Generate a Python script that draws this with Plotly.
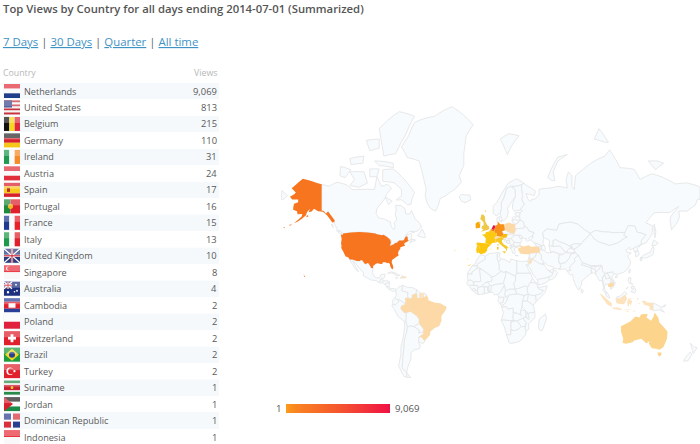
import math
import plotly.graph_objects as go

TITLE = "Top Views by Country for all days ending 2014-07-01 (Summarized)"
LINKS = ["7 Days", "30 Days", "Quarter", "All time"]
countries = ["Netherlands","United States","Belgium","Germany","Ireland","Austria","Spain","Portugal","France","Italy",
             "United Kingdom","Singapore","Australia","Cambodia","Poland","Switzerland","Brazil","Turkey","Suriname","Jordan",
             "Dominican Republic","Indonesia"]
iso3 = ["NLD","USA","BEL","DEU","IRL","AUT","ESP","PRT","FRA","ITA","GBR","SGP","AUS","KHM","POL","CHE","BRA","TUR","SUR","JOR","DOM","IDN"]
views = [9069,813,215,110,31,24,17,16,15,13,10,8,4,2,2,2,2,2,1,1,1,1]
view_labels = ["9,069","813","215","110","31","24","17","16","15","13","10","8","4","2","2","2","2","2","1","1","1","1"]

# Coarse geographic outlines (lon, lat); the basemap file cannot be fetched offline.
outlines = {
"USA":[[(-124.7,48.4),(-123,48.3),(-122.8,49),(-95.2,49),(-94.6,48.7),(-92,48.3),(-89.6,48),(-88.4,48.3),(-84.9,46.9),(-84.5,46.5),(-83.5,46),(-82.5,45.3),(-82.1,43.6),(-82.5,42.6),(-83.1,42.1),(-82.7,41.7),(-79,42.8),(-79,43.3),(-76.8,43.6),(-76.3,44.2),(-74.9,45),(-71.5,45),(-70.8,45.4),(-70,46.7),(-69.2,47.4),(-68.3,47.3),(-67.8,47),(-67.8,45.7),(-67,44.8),(-69,44),(-70.2,43.6),(-70.8,42.8),(-70,41.7),(-71.5,41.4),(-74,40.7),(-74.1,39.7),(-75.4,38.5),(-76,36.9),(-75.5,35.2),(-77,34.5),(-79,33.4),(-81,32),(-81.4,30.5),(-80.5,28.4),(-80,26.8),(-80.3,25.3),(-81.1,25.1),(-81.8,26.2),(-82.8,27.8),(-82.8,29),(-84,30),(-85.4,29.7),(-86.5,30.4),(-89,30.4),(-89.4,29.1),(-90.5,29.2),(-93.5,29.7),(-94.8,29.3),(-97.2,27.7),(-97.2,25.96),(-99.1,26.4),(-99.5,27.5),(-101.4,29.8),(-102.7,29.7),(-103.1,29),(-104.5,29.6),(-106.5,31.8),(-108.2,31.8),(-108.2,31.3),(-111,31.3),(-114.8,32.5),(-117.1,32.5),(-118.5,34),(-120.6,34.6),(-121.9,36.6),(-122.5,37.8),(-123.8,39.5),(-124.3,40.4),(-124.1,42),(-124.5,42.8),(-124,46.2)],
 [(-141,69.6),(-141,60.3),(-139,60),(-137.5,58.9),(-135.5,59.8),(-133.5,58.4),(-130,55.9),(-130.2,55),(-132,54.8),(-134,56.5),(-136.5,58.2),(-140,59.7),(-144,60),(-147.5,61),(-149.5,59.8),(-152,59.5),(-151,61),(-153.5,59.5),(-154.3,58.2),(-158,56.5),(-162,55),(-164.5,54.5),(-161,56.1),(-158,57.6),(-157.5,58.8),(-161.5,58.7),(-162,60),(-165.3,60.6),(-165,62),(-164.5,63),(-161,63.6),(-161,64.6),(-166,64.6),(-168,65.6),(-164,66.5),(-163,67),(-166.5,68.4),(-163,69.5),(-157,71.2),(-152,70.8),(-145,70)],
 [(-155.9,19.1),(-155,19.7),(-155.8,20.3),(-156.1,19.7)],[(-156.7,20.9),(-156,20.7),(-156.4,20.5)],[(-159.8,22),(-159.3,22.2),(-159.4,21.9)],
 [(-154,57.3),(-152.4,57.5),(-152.6,58.3),(-153.8,57.9)],[(-168.5,53.2),(-166.5,53.6),(-167,54),(-168.5,53.6)],[(-174,52.1),(-172,52.2),(-172.5,52.5)]],
"CAN":[[(-141,69.6),(-135,69),(-128,70.2),(-120,69.5),(-115,68),(-108,68),(-96,68),(-94,71.8),(-90,69),(-85,69.6),(-81.5,68.5),(-86,66.3),(-87,65),(-94,61),(-94.7,59),(-92.5,57),(-88,56.5),(-82.5,55.1),(-82,53),(-80,51.3),(-79,51.5),(-78.5,52.8),(-79.5,54.7),(-77,56),(-78.5,58.7),(-77.5,60.5),(-78,62.4),(-73.5,62.3),(-70,61),(-69.5,58.8),(-66,58.8),(-64.5,60.3),(-61.5,56.5),(-58,54.8),(-55.8,52.5),(-60,50.2),(-66.5,50.2),(-70,47.5),(-65,49.2),(-64.5,47.5),(-65,46),(-61,45.2),(-66,43.6),(-64,45.8),(-67,44.8),(-67.8,45.7),(-67.8,47),(-68.3,47.3),(-69.2,47.4),(-70,46.7),(-70.8,45.4),(-71.5,45),(-74.9,45),(-76.3,44.2),(-79,43.3),(-79,42.8),(-82.7,41.7),(-83.1,42.1),(-82.5,42.6),(-82.1,43.6),(-81.5,45),(-83.5,46),(-84.5,46.5),(-84.9,46.9),(-88.4,48.3),(-89.6,48),(-92,48.3),(-94.6,48.7),(-95.2,49),(-122.8,49),(-125,50.2),(-127.5,51),(-130,54),(-130.2,55),(-130,55.9),(-133.5,58.4),(-135.5,59.8),(-137.5,58.9),(-139,60),(-141,60.3)],
 [(-80,73.7),(-72,71.5),(-68,70),(-62,67),(-64,65),(-65,62.8),(-68,62.6),(-73,64.5),(-77.5,64.4),(-73,66),(-73,68),(-79,70),(-89,70.5),(-89,73.5)],
 [(-117,73),(-105,73),(-102,70),(-109,68.7),(-117,69.2),(-113,71)],[(-125,74.3),(-116,73.5),(-121,71.5),(-125.5,72)],
 [(-92,81),(-75,83),(-62,82.5),(-70,80),(-78,77),(-88,76.5),(-90,79)],[(-96,75.5),(-80,75),(-80,74),(-92,74.5)],[(-117,76),(-105,76.5),(-106,75),(-116,74.7)],
 [(-103,79.3),(-92,79.5),(-92,78),(-100,77.5)],[(-100,73.7),(-92,73.7),(-94,71.8),(-100,71.7)],[(-87,65.5),(-81,64),(-84,62.7)],
 [(-59.3,47.7),(-55.5,46.9),(-53,46.7),(-52.8,48),(-55.5,51.5),(-57,50)],[(-128.5,50.7),(-125,50.2),(-123.4,48.5),(-125.5,48.9)],[(-132.8,54),(-131.8,54),(-131.2,52.2)],[(-64.5,49.9),(-62,49.4),(-63,49.8)]],
"GRL":[[(-73,78.2),(-68,76.2),(-58,75.5),(-54,71),(-52,68),(-53,66),(-51,63),(-48,61),(-44,60),(-42,62),(-40,65),(-35,66),(-27,68.3),(-22,70.3),(-24,72),(-20,74.5),(-20,77),(-18,80),(-12,81.5),(-30,83.5),(-45,82.5),(-62,81.8),(-67,80)]],
"ISL":[[(-24,65.5),(-22,64),(-19,63.4),(-14,64.5),(-15,66.2),(-18,66.2),(-22,66.4)]],
"SJM":[[(11,79.5),(17,76.8),(21,78.5),(27,80),(18,80.3)]],
"MEX":[[(-117.1,32.5),(-114.8,32.5),(-111,31.3),(-108.2,31.3),(-108.2,31.8),(-106.5,31.8),(-104.5,29.6),(-103.1,29),(-102.7,29.7),(-101.4,29.8),(-99.5,27.5),(-99.1,26.4),(-97.2,25.96),(-97.8,22.5),(-96,19),(-94.5,18.2),(-91.5,18.6),(-90.4,21),(-87,21.5),(-87.8,18.3),(-89.1,17.9),(-91,17.2),(-91,16),(-92.2,14.6),(-94.5,16.2),(-99,16.6),(-105.5,20),(-105.5,22.5),(-109,26),(-112.5,30),(-114.7,31.5),(-112,27),(-109.5,23.2),(-112,25),(-115,29)]],
"GTM":[[(-92.2,14.6),(-91,16),(-91,17.2),(-89.1,17.9),(-88.7,15.9),(-89.3,14.5),(-90.5,13.9)]],
"HND":[[(-89.3,14.5),(-88.7,15.9),(-85,16),(-83.2,15),(-85,14),(-87.3,13)]],
"NIC":[[(-87.3,13),(-85,14),(-83.2,15),(-83.7,11),(-85.7,11.1)]],
"CRI":[[(-85.7,11.1),(-83.7,11),(-82.6,9.6),(-83,8.3),(-85,9.7)]],
"PAN":[[(-83,8.3),(-82.6,9.6),(-79.5,9.5),(-77.4,8.7),(-77.9,7.3),(-80.4,7.3)]],
"CUB":[[(-84.9,21.9),(-82,23.1),(-78,22.2),(-74.2,20.2),(-77.7,19.9),(-78,21),(-82,22.4)]],
"HTI":[[(-74.4,18.4),(-72,18.1),(-71.7,19.8),(-73.2,19.9),(-72.6,18.8)]],
"DOM":[[(-72,18.1),(-71,17.7),(-68.4,18.6),(-69.9,19.7),(-71.7,19.8)]],
"JAM":[[(-78.3,18.3),(-76.3,18),(-76.6,18.4)]],
"COL":[[(-77.4,8.7),(-75.5,10.7),(-72,12.2),(-72.4,10.5),(-72.5,7.5),(-70,7),(-67.5,6.2),(-67.8,3.5),(-67.2,1.5),(-70,1.5),(-69.5,-0.5),(-69.9,-4.2),(-70.9,-2.5),(-74.5,-0.2),(-77.5,0.4),(-78.9,1.4),(-77.4,4),(-77.9,7.3)]],
"VEN":[[(-72,12.2),(-70,11.5),(-68,10.6),(-64,10.4),(-60,8.5),(-60.7,5.2),(-64,4.1),(-64,1.5),(-66.5,1),(-67.2,1.5),(-67.8,3.5),(-67.5,6.2),(-70,7),(-72.5,7.5),(-72.4,10.5)]],
"GUY":[[(-60,8.5),(-57.2,6),(-58,3.5),(-57,1.7),(-59.8,1.3),(-60,5.2),(-60.7,5.2)]],
"SUR":[[(-57.2,6),(-54,5.9),(-54.4,2.3),(-57,1.9),(-58,3.5)]],
"GUF":[[(-54,5.9),(-51.6,4.2),(-52.8,2.2),(-54.4,2.3)]],
"ECU":[[(-78.9,1.4),(-77.5,0.4),(-75.2,-0.1),(-75.5,-1.5),(-78.5,-4.8),(-80.3,-3.4),(-81,-2),(-80,0.5)]],
"PER":[[(-80.3,-3.4),(-78.5,-4.8),(-75.5,-1.5),(-75.2,-0.1),(-74.5,-0.2),(-70.9,-2.5),(-69.9,-4.2),(-73,-5),(-73.8,-7.5),(-70.6,-11),(-69,-11),(-69,-16),(-69.5,-17.5),(-70.4,-18.3),(-76,-14),(-79.5,-7.5),(-81.3,-5)]],
"BOL":[[(-69.5,-10.9),(-65.4,-9.8),(-60,-13.7),(-58,-16.4),(-58,-19.8),(-62.6,-22.2),(-66.3,-21.8),(-68,-22.8),(-69.5,-17.5),(-69,-16),(-69,-11)]],
"PRY":[[(-58,-19.8),(-55.5,-22.5),(-54.3,-24.2),(-54.6,-26.5),(-58.5,-27.2),(-57.7,-25.2),(-62.6,-22.2)]],
"CHL":[[(-70.4,-18.3),(-69.5,-17.5),(-68,-22.8),(-68.5,-26),(-70.5,-32),(-71,-38),(-71.8,-44),(-72.5,-50),(-69,-52.2),(-66,-55),(-71,-54.5),(-75.5,-49),(-73.5,-42),(-73.5,-37),(-71.5,-30),(-70.4,-23)]],
"ARG":[[(-66.3,-21.8),(-62.6,-22.2),(-57.7,-25.2),(-58.5,-27.2),(-54.6,-26.5),(-54,-27.5),(-58.2,-30.2),(-58.4,-34),(-57,-36.5),(-58,-38.5),(-62,-39),(-65,-41),(-65,-45),(-68,-50),(-68.5,-52.4),(-69,-52.2),(-72.5,-50),(-71.8,-44),(-71,-38),(-70.5,-32),(-68.5,-26),(-68,-22.8)],[(-68.6,-52.7),(-65.2,-54.9),(-68.6,-54.9)]],
"URY":[[(-58.2,-30.2),(-56,-30.2),(-53.3,-33),(-54.5,-34.8),(-58.4,-34)]],
"BRA":[[(-60,5.2),(-59.8,1.3),(-57,1.7),(-54.4,2.3),(-52.8,2.2),(-51.6,4.2),(-50,1),(-50.5,0),(-48.5,-1),(-44.5,-2.5),(-40,-2.9),(-37,-4.8),(-35,-5.5),(-34.8,-7.5),(-37,-11),(-39,-13.5),(-39,-17.5),(-41,-22),(-44.5,-23.2),(-48.5,-26),(-48.7,-28.5),(-53.3,-33),(-56,-30.2),(-58.2,-30.2),(-54,-27.5),(-54.6,-26.5),(-54.3,-24.2),(-55.5,-22.5),(-58,-19.8),(-58,-16.4),(-60,-13.7),(-65.4,-9.8),(-69.5,-10.9),(-70.6,-11),(-73.8,-7.5),(-73,-5),(-69.9,-4.2),(-69.5,-0.5),(-70,1.5),(-67.2,1.5),(-66.5,1),(-64,1.5),(-64,4.1),(-60.7,5.2)]],
"IRL":[[(-10,54.2),(-9.8,51.7),(-6.3,52.2),(-6,53.7),(-7.3,55.2),(-8.5,55)]],
"GBR":[[(-5.5,50),(1.3,51.2),(1.7,52.7),(0,53.5),(-1.5,55),(-2,56),(-2,57.5),(-3.5,58.6),(-5,58.6),(-6,56.5),(-3.2,54.9),(-3,53.4),(-4.5,53),(-5,51.7),(-3.3,51.3)],[(-8,54.6),(-6,54.2),(-5.7,55),(-7,55.2)],[(-2.5,59.5),(-1.2,60.6),(-1,60)]],
"NOR":[[(5,59),(7.5,58),(10.7,59),(12,61),(12,63.5),(14,65),(16.5,68.4),(20,69),(25,69),(29,69.5),(31,70),(25,71.2),(18,70),(12,66.5),(8,63.5),(5,62)]],
"SWE":[[(11,59),(12.8,55.6),(14.5,56),(16.5,57),(18,59.6),(17,61),(21,64),(24,65.8),(23.7,68),(20,69),(16.5,68.4),(14,65),(12,63.5),(12,61)]],
"FIN":[[(23,60),(28,60.5),(31.5,62.8),(29.5,64.5),(30,66),(29,69),(29,69.5),(25,69),(20.8,69),(23.7,68),(24,65.8),(21.5,63),(21.5,61)]],
"DNK":[[(8.2,55),(9.5,54.9),(10.5,56),(10.8,57.7),(8.2,57)],[(11,55.7),(12.5,55.9),(12,54.8)]],
"NLD":[[(3.4,51.4),(6,50.8),(6.2,51.8),(7.2,53.2),(5,53.4),(4,52)]],
"BEL":[[(2.5,51.1),(4,50.3),(6,50),(6,50.8),(5.8,51.2),(3.4,51.4)]],
"DEU":[[(6,50.8),(6,50),(6.2,49.5),(8.2,49),(7.6,47.6),(10,47.4),(13,47.6),(13.8,48.7),(12.3,50.2),(15,51),(14.7,53),(14.2,53.9),(11,54),(9.5,54.9),(8.6,54.9),(8.8,53.9),(7.2,53.2),(6.2,51.8)]],
"FRA":[[(-4.7,48.4),(-1.5,48.7),(-1.5,49.7),(1.5,50.2),(2.5,51.1),(4,50.3),(6,50),(6.2,49.5),(8.2,49),(7.6,47.6),(6,46.4),(7,45.9),(7,44.3),(7.5,43.8),(4,43.4),(3.1,42.4),(-1.8,43.3),(-1.2,46),(-2.5,47.3)],[(8.6,42.9),(9.5,42.9),(9.3,41.4),(8.8,41.6)]],
"ESP":[[(-9.3,43),(-8.8,43.8),(-1.8,43.3),(3.1,42.4),(0.7,40.8),(-0.3,39.5),(0,38.6),(-2,36.9),(-5.4,36.1),(-7.4,37.2),(-7,39.6),(-6.5,41.6),(-8.8,41.9)],[(2.3,39.5),(3.4,39.9),(3,39.3)],[(-17.2,28),(-15.5,28.3),(-13.6,29.2),(-15.5,27.8)]],
"PRT":[[(-8.8,41.9),(-6.5,41.6),(-7,39.6),(-7.4,37.2),(-8.9,37),(-9.5,38.8)],[(-28.7,38.4),(-27,38.9),(-27.5,38.3)],[(-17.3,32.7),(-16.3,33),(-16.7,32.5)]],
"ITA":[[(7,44.3),(7,45.9),(8.5,46.3),(10.5,46.8),(12.2,47),(13.7,46.5),(13.5,45.7),(12.3,45),(12.6,44),(14,42.5),(16.2,41.8),(18.5,40.2),(17,40.4),(16.6,38.9),(15.7,38),(16,39.5),(15,40.2),(12.4,41.7),(10.5,43),(8.8,44.4),(7.5,43.8)],[(12.5,38),(15.6,38.2),(15.1,36.7)],[(8.2,41),(9.7,41),(9.5,39.1),(8.4,39.1)]],
"CHE":[[(6,46.4),(7.6,47.6),(9.6,47.5),(10.5,46.8),(8.5,46.3),(7,45.9)]],
"AUT":[[(9.6,47.5),(10,47.4),(13,47.6),(13.8,48.7),(17,48.7),(16.9,47.7),(16,46.8),(13.7,46.5),(12.2,47),(10.5,46.8)]],
"POL":[[(14.2,53.9),(14.7,53),(15,51),(19,49.5),(22.8,49.1),(24,50.8),(23.6,52),(23.5,54),(19.8,54.4),(18.5,54.8)]],
"CZE":[[(12.3,50.2),(13.8,48.7),(17,48.7),(22.5,48.6),(22.8,49.1),(19,49.5),(15,51)]],
"HUN":[[(16,46.8),(16.9,47.7),(17,48.7),(22.5,48.6),(22.8,48),(20.3,46.2),(18,45.8)]],
"SVN":[[(13.7,46.5),(16,46.8),(15.5,45.5),(13.5,45.5)]],
"HRV":[[(13.5,45.5),(15.5,45.5),(16,46.8),(18,45.8),(19,45),(16,44.9),(17.6,43),(15,44.5)]],
"BIH":[[(16,44.9),(19,45),(19,43.5),(17.6,43)]],
"SRB":[[(18,45.8),(20.3,46.2),(22.5,44.3),(22.4,42.4),(20.5,42),(19,43.5),(19,45)]],
"ALB":[[(19.3,42.2),(20.5,42),(20.9,40.9),(20,39.7),(19.4,41)]],
"MKD":[[(20.5,42),(22.4,42.4),(23,41.3),(20.9,40.9)]],
"GRC":[[(20,39.7),(20.9,40.9),(23,41.3),(26.3,41.6),(26,40.8),(23,40.3),(23,39),(24,38),(23,36.5),(21.7,36.8),(21,38.4)],[(23.6,35.5),(26.2,35.2),(24.8,34.9)]],
"BGR":[[(22.4,42.4),(22.5,44.3),(25,43.7),(28.5,43.7),(27.7,42.6),(28,42),(26.3,41.6),(23,41.3)]],
"ROU":[[(20.3,46.2),(22.8,48),(26.5,48.2),(28.2,46),(29.6,45.2),(28.5,43.7),(25,43.7),(22.5,44.3)]],
"MDA":[[(26.5,48.2),(29,47.9),(30,46.4),(28.2,46)]],
"UKR":[[(22.8,48),(22.5,48.6),(22.8,49.1),(24,50.8),(24,51.6),(31,52),(31.5,53),(34,52.3),(35.5,50.4),(40,49.6),(38,47.5),(35,46.3),(36.5,45.3),(34,44.4),(32.5,45.3),(33.5,46),(30,46.4),(29,47.9),(26.5,48.2)]],
"BLR":[[(24,51.6),(31,52),(31.5,53),(31,55),(28,56),(25.5,54.3),(23.5,54),(23.6,52)]],
"LTU":[[(21,56),(21,55.2),(23.5,54),(25.5,54.3),(26.6,55.7),(24,56.3)]],
"LVA":[[(21,56),(24,56.3),(26.6,55.7),(28,56),(27.5,57.5),(25,58),(24.3,57.2),(22.5,57.7),(21.4,57)]],
"EST":[[(23.5,59.2),(28,59.5),(27.5,57.5),(25,58),(24,58.3)]],
"RUS":[[(28,60.5),(31.5,62.8),(29.5,64.5),(30,66),(29,69),(31,70),(33,69.4),(41,67.5),(40,66),(35,66.5),(33,66.7),(34.8,64.5),(37,63.9),(38,64.8),(40,64.6),(44,66.2),(44,68),(46,68.2),(54,68.5),(60,69),(68,68.5),(67,71),(69,73),(72,72),(72,69),(74,68),(75,72),(81,73.5),(88,75),(100,76.5),(104,77.7),(113,74),(125,73.6),(130,71),(140,72.5),(150,71.5),(160,69.7),(170,70),(180,69),(190,66),(186,64.5),(179,64.7),(177,62.5),(170,60),(163,60),(163.5,57.5),(162,55),(156.7,51),(155.5,56),(156,57.5),(163,62),(155,59.3),(142,59.3),(135,54.7),(141,53),(140,48.5),(135,43.5),(131,42.5),(131,45),(135,48.4),(127.5,49.8),(125.5,53),(120,53.3),(117,49.6),(108,49.5),(98,50),(92,50.7),(87.5,49.1),(83,51),(77,54),(71,55),(61,54),(59,50.7),(51,51.5),(47,49.5),(48,46.5),(47.5,45.5),(47.5,43),(48.5,41.8),(46.5,41.8),(40,43.5),(37,45),(39,47.2),(38,47.5),(40,49.6),(35.5,50.4),(34,52.3),(31.5,53),(31,55),(28,56),(27.5,57.5),(28,59.5),(30,60)],
 [(51.5,71.5),(55,70.7),(57.5,70.7),(56,73),(60,75.5),(68,76.8),(60,76.3),(54,73.5)],[(142,54),(143.5,50),(142.5,46.5),(142,49)],[(91,79.5),(100,79),(103,79),(95,81)],[(137,75.5),(145,75.5),(150,75),(143,73.5)]],
"TUR":[[(26.3,41.6),(28,42),(31,41.2),(35,42),(38,41),(41.5,41.5),(43.5,41),(44.7,39.7),(44.5,37.2),(42,37.2),(36.7,36.8),(36,36),(34,36.2),(30.5,36.3),(28,36.7),(26.3,39),(26.2,40.2),(29,41)]],
"GEO":[[(40,43.5),(46.5,41.8),(43.5,41),(41.5,41.5)]],
"ARM":[[(43.5,41),(46,41),(46.5,39),(44.7,39.7)]],
"AZE":[[(46.5,41.8),(48.5,41.8),(49.5,40.3),(48.9,38.5),(46.5,39),(46,41)]],
"SYR":[[(36,36),(36.7,36.8),(42,37.2),(41,34.4),(38.8,33.4),(36,33),(35.8,34.7)]],
"LBN":[[(35.1,33.1),(36,33.7),(36,34.6),(35.5,34.6)]],
"ISR":[[(34.3,31.3),(35,29.6),(35.5,31.8),(35.7,33),(35.1,33.1)]],
"JOR":[[(35,29.6),(36.1,29.2),(38,30.5),(37,31.5),(39,32.3),(38.8,33.4),(36,32.7),(35.5,31.8)]],
"IRQ":[[(42,37.2),(44.5,37.2),(46,35.6),(46,33),(48.5,30),(47.7,30),(46.5,29.1),(44.7,29.2),(39,32.3),(38.8,33.4),(41,34.4)]],
"IRN":[[(44.7,39.7),(46.5,39),(48.9,38.5),(50,37.4),(54,37),(54,37.4),(56,38),(60.5,36.6),(61.2,35.5),(60.7,31),(62.7,28),(61.6,25.1),(57,25.8),(56,27),(51.5,27.9),(48.8,30.3),(48.5,30),(46,33),(46,35.6),(44.5,37.2)]],
"SAU":[[(34.6,28.1),(36.1,29.2),(38,30.5),(37,31.5),(39,32.3),(44.7,29.2),(46.5,29.1),(48.4,28.5),(50,26.7),(51.5,24.5),(55.6,22),(55,20),(52,19),(48.5,18),(44,17.4),(42.7,16.5),(39,21),(37,25)]],
"YEM":[[(42.7,16.5),(44,17.4),(48.5,18),(52,19),(53,16.6),(49,14),(45,12.8),(43.3,12.7)]],
"OMN":[[(52,19),(55,20),(55.6,22),(56.3,24.8),(58.6,23.6),(59.8,22.5),(57.8,19),(55,17),(53,16.6)]],
"ARE":[[(51.5,24.5),(54,24.2),(56.3,25.9),(56.3,24.8),(55.6,22)]],
"KWT":[[(46.5,29.1),(47.7,30),(48.4,28.5)]],
"EGY":[[(25,31.6),(29,31),(32,31.2),(34.3,31.3),(35,29.6),(34,27.5),(33,29),(33.7,27),(36.9,22),(31.4,22),(25,22),(25,29)]],
"LBY":[[(9.5,30.2),(11.5,33.1),(15,32.3),(19,30.3),(20,32.8),(25,31.6),(25,22),(24,19.5),(15.9,23.4),(14,22.6),(11.9,23.5),(10,24.8),(10,28)]],
"TUN":[[(8.3,33),(9.5,30.2),(11.5,33.1),(10.1,34.3),(11,37),(9,37.2),(8.4,36.2)]],
"DZA":[[(-8.7,27.7),(-8.7,29),(-2,32.5),(-1.8,34.9),(2,36.6),(9,37.2),(8.4,36.2),(8.3,33),(9.5,30.2),(10,28),(10,24.8),(11.9,23.5),(6,19.5),(3.3,19),(3.2,19.8),(-4.8,25)]],
"MAR":[[(-13,27.7),(-8.7,27.7),(-8.7,29),(-2,32.5),(-1.8,34.9),(-5.9,35.8),(-9.5,31.5),(-10,29.5)]],
"ESH":[[(-17,21.4),(-13,21.4),(-13,23),(-8.7,26),(-8.7,27.7),(-13,27.7),(-16,23.5)]],
"MRT":[[(-16.5,16),(-17,21.4),(-13,21.4),(-13,23),(-8.7,26),(-4.8,25),(-6.5,25),(-5.5,15.5),(-12,15),(-14,16.6)]],
"MLI":[[(-12,15),(-5.5,15.5),(-6.5,25),(-4.8,25),(3.2,19.8),(3.3,19),(4.2,16.8),(3.5,15.4),(0,14.9),(-2,14.2),(-5.3,11),(-8,10.5),(-8.3,12),(-11.4,12.2)]],
"NER":[[(3.3,19),(6,19.5),(11.9,23.5),(14,22.6),(15.9,23.4),(15.5,20),(13.6,13.7),(11,13.4),(6.7,13),(3.6,11.7),(2.4,12),(0,14.9),(3.5,15.4),(4.2,16.8)]],
"TCD":[[(15.9,23.4),(24,19.5),(24,15.7),(22.6,14),(23.5,9),(18.9,9),(15.5,7.5),(14.5,12.5),(13.6,13.7),(15.5,20)]],
"SDN":[[(24,19.5),(25,22),(31.4,22),(36.9,22),(38.5,18),(36.5,14.3),(34.3,10.5),(32.5,11.7),(27,9.7),(23.5,9),(22.6,14),(24,15.7)]],
"SSD":[[(23.5,9),(27,9.7),(32.5,11.7),(34.3,10.5),(33.9,8),(35,4.6),(31,3.7),(28,4.5),(25,5)]],
"ERI":[[(36.5,14.3),(38.5,18),(43,12.7),(40,14.5)]],
"ETH":[[(34.3,10.5),(36.5,14.3),(40,14.5),(43,12.5),(42.8,11),(44,9),(48,8),(45,5),(41.9,3.9),(39,3.5),(35,4.6),(33.9,8)]],
"SOM":[[(42.8,11),(45,10.5),(51,11.9),(49,6),(41.5,-1.7),(41,3.9),(45,5),(48,8),(44,9)]],
"KEN":[[(34,4.2),(35,4.6),(39,3.5),(41,3.9),(41.5,-1.7),(39.2,-4.7),(34,-1)]],
"UGA":[[(31,3.7),(35,4.6),(34,-1),(29.7,-1.4),(31,2)]],
"TZA":[[(29.7,-1.4),(34,-1),(39.2,-4.7),(40.4,-10.4),(35,-11.5),(32.7,-9.4),(29.5,-6)]],
"COD":[[(12.2,-6),(13,-4.6),(16,-2),(18,3.5),(18.6,4.3),(22,4.6),(25,5),(28,4.5),(31,3.7),(31,2),(29.7,-1.4),(29.5,-6),(28.7,-8.5),(28,-12.3),(29.6,-13.4),(25.5,-11.5),(22,-11),(21.8,-7),(17.5,-8),(16.2,-5.9)]],
"COG":[[(11.2,-4.5),(13,-4.6),(16,-2),(18,3.5),(14.5,3.5),(14,1.5),(13.2,-2.3),(11.5,-2.3)]],
"GAB":[[(9.6,0.8),(9.8,2.2),(13.3,2.2),(14,1.5),(13.2,-2.3),(11.5,-2.3),(11.2,-4),(8.9,-1)]],
"CAF":[[(14.5,5),(15.5,7.5),(18.9,9),(23.5,9),(25,5),(22,4.6),(18.6,4.3),(16,2.3)]],
"CMR":[[(8.7,4.5),(9.8,2.2),(16,2.3),(14.5,5),(15.5,7.5),(14.5,12.5),(13.2,10),(11,6.5)]],
"NGA":[[(2.7,6.4),(2.4,12),(3.6,11.7),(6.7,13),(11,13.4),(13.6,13.7),(14.5,12.5),(13.2,10),(11,6.5),(8.7,4.5),(6,4.3),(4.5,6.3)]],
"BEN":[[(1.6,6.2),(2.7,6.4),(3.6,11.7),(2.4,12),(0.9,11)]],
"TGO":[[(1.6,6.2),(0.9,11),(0,11),(0.5,7.5),(1.2,6.1)]],
"GHA":[[(-3,5),(1.2,6.1),(0.5,7.5),(0,11),(-2.8,11),(-2.5,8)]],
"BFA":[[(-5.3,11),(-2.8,11),(0,11),(2.4,12),(0,14.9),(-2,14.2)]],
"CIV":[[(-7.6,4.4),(-3,5),(-2.5,8),(-2.8,11),(-5.3,11),(-8,10.5),(-8.5,7.5)]],
"LBR":[[(-11.4,6.9),(-7.6,4.4),(-8.5,7.5),(-10,8.4)]],
"SLE":[[(-13.3,8.5),(-11.4,6.9),(-10,8.4),(-11.2,10)]],
"GIN":[[(-15,10.9),(-13.3,8.5),(-11.2,10),(-10,8.4),(-8.5,7.5),(-8,10.5),(-8.3,12),(-11.4,12.2),(-13.7,12.5)]],
"SEN":[[(-17.5,14.7),(-16.5,16),(-14,16.6),(-12,15),(-11.4,12.2),(-16.8,12.4)]],
"AGO":[[(12,-6),(16.2,-5.9),(17.5,-8),(21.8,-7),(22,-11),(24,-11),(22,-13),(22,-16.5),(23.3,-17.7),(13.5,-17),(11.8,-17.3),(13.7,-11)]],
"ZMB":[[(22,-11),(25.5,-11.5),(29.6,-13.4),(28,-12.3),(28.7,-8.5),(32.7,-9.4),(33,-13.5),(30.3,-15.5),(28,-16.5),(25.3,-17.8),(23.3,-17.7),(22,-16.5),(22,-13)]],
"MWI":[[(33,-9.5),(34.5,-11.5),(35.8,-16),(35,-16.8),(33,-13.5)]],
"MOZ":[[(34.5,-11.5),(40.4,-10.4),(40.6,-15),(35,-20),(35.5,-24),(32.9,-26),(32,-24.5),(33,-19),(30.3,-15.5),(33,-14.5),(35,-16.8),(35.8,-16)]],
"ZWE":[[(25.3,-17.8),(28,-16.5),(30.3,-15.5),(33,-19),(32,-22.3),(29,-22.2)]],
"BWA":[[(20,-18.3),(23.3,-17.7),(25.3,-17.8),(29,-22.2),(26,-24.7),(23,-25.3),(20,-25)]],
"NAM":[[(11.8,-17.3),(13.5,-17),(23.3,-17.7),(20,-18.3),(20,-28.4),(16.5,-28.6),(14.5,-22.5)]],
"ZAF":[[(16.5,-28.6),(20,-28.4),(20,-25),(23,-25.3),(26,-24.7),(29,-22.2),(32,-22.3),(32.9,-26),(32.5,-28.6),(28,-33),(25,-34),(20,-34.8),(18.4,-34.2)]],
"MDG":[[(44.2,-16.2),(49.3,-12),(50.5,-15.5),(47,-25),(45,-25.5),(43.5,-22.5)]],
"KAZ":[[(47,49.5),(51,51.5),(59,50.7),(61,54),(71,55),(77,54),(83,51),(87.5,49.1),(85.5,47),(82.5,45.3),(80,42.8),(74,43),(70,41.5),(66,43),(61,44.3),(58.5,45.5),(56,45),(56,41.3),(52.5,41.7),(53,45),(49.5,46.3),(48,46.5)]],
"UZB":[[(56,45),(58.5,45.5),(61,44.3),(66,43),(70,41.5),(73,40.8),(68,38.5),(66.5,37.3),(62,41.5),(56,41.3)]],
"TKM":[[(52.5,41.7),(56,41.3),(62,41.5),(66.5,37.3),(64.5,36),(60.5,36.6),(56,38),(54,37.4)]],
"KGZ":[[(70,41.5),(74,43),(80,42.8),(76,40.4),(73.5,39.5),(70,40.2),(73,40.8)]],
"TJK":[[(68,38.5),(70,40.2),(73.5,39.5),(75,37.4),(71.5,36.9),(68,37)]],
"AFG":[[(60.7,31),(61.2,35.5),(64.5,36),(66.5,37.3),(68,37),(71.5,36.9),(74.8,37.2),(71,36),(69.5,33),(66.5,30),(62,29.4)]],
"PAK":[[(61.6,25.1),(62.7,28),(60.7,31),(62,29.4),(66.5,30),(69.5,33),(71,36),(74.8,37),(77.5,35.5),(74,33),(74.7,31),(71,28),(70,26),(71,24.2),(68,23.7),(66.5,25.4)]],
"IND":[[(68,23.7),(71,24.2),(70,26),(71,28),(74.7,31),(74,33),(77.5,35.5),(79,33),(81,30.2),(80,28.7),(88,26.4),(88.8,27.8),(92,26.9),(97.3,28.2),(94,24),(92.3,23),(92,25),(88.3,26),(88.7,22),(86.8,21),(80.3,15.5),(80.2,12.8),(77.6,8.1),(75,12.5),(73,18),(72.7,21),(70.5,20.8),(69,22.3)]],
"NPL":[[(80,28.7),(81,30.2),(88.2,27.9),(88,26.4)]],
"BTN":[[(88.8,27.8),(92,28),(92,26.9)]],
"BGD":[[(88.3,26),(92,25),(92.3,23),(92.3,21),(90.5,22.5),(88.7,22)]],
"LKA":[[(79.8,9.5),(81.8,7.5),(81,6),(80,6.2)]],
"CHN":[[(74,39.5),(73.5,39.5),(76,40.4),(80,42.8),(82.5,45.3),(85.5,47),(87.5,49.1),(91,46),(95.5,44),(104,42),(111,43.6),(117,46.5),(119,47),(116,48),(117,49.6),(120,53.3),(125.5,53),(127.5,49.8),(135,48.4),(131,45),(131,42.5),(128,41.5),(124.3,40),(121.5,39),(121,40.8),(118,39),(119,37.3),(122.5,37),(119.3,35),(122,31),(121.5,28.5),(119,25),(116,22.8),(110.5,21),(108,21.6),(106.7,23),(102,22.4),(100,21.5),(98,24),(97.3,28.2),(92,28),(88.2,27.9),(81,30.2),(79,33),(77.5,35.5),(74.8,37.2)],[(108.7,19.2),(110.5,20.2),(110.5,18.6),(109,18.3)]],
"MNG":[[(87.5,49.1),(92,50.7),(98,50),(108,49.5),(117,49.6),(116,48),(119,47),(117,46.5),(111,43.6),(104,42),(95.5,44),(91,46)]],
"PRK":[[(124.3,40),(128,41.5),(131,42.5),(127.5,39.6),(128.3,38.5),(125,37.8)]],
"KOR":[[(126,37.7),(128.3,38.5),(129.4,36),(128,34.8),(126.3,34.5)]],
"JPN":[[(130,33.5),(132,33.7),(135,33.5),(139,35),(141,36),(141.9,39.8),(141,41.3),(139.8,39.5),(138.5,37.3),(136.8,37),(133,35.5),(130.9,34)],[(130,32),(131,31.2),(132,33),(130.5,33.7)],[(140,41.8),(141.7,45.4),(145.5,43.3),(143,42)]],
"TWN":[[(120.2,23),(121,25.2),(122,25),(120.9,22)]],
"MMR":[[(92.3,21),(92.3,23),(94,24),(97.3,28.2),(98,24),(100,21.5),(97.8,18.5),(98.6,15),(99,10.5),(97.8,16.5),(95.5,15.8),(94.3,18)]],
"THA":[[(97.8,18.5),(100,20.5),(101,17.5),(102.5,18),(105,18.3),(105.5,14.3),(102.5,13),(100.5,13.5),(99.5,10.5),(100.3,8),(102,6),(100.2,6.5),(98.3,8),(99,10.5),(98.6,15)]],
"LAO":[[(100,21.5),(102,22.4),(104,19.2),(107.5,15),(105.5,14.3),(105,18.3),(102.5,18),(101,17.5),(100,20.5)]],
"VNM":[[(102,22.4),(106.7,23),(108,21.6),(105.8,19),(109,14),(107,10.4),(105,8.7),(105,10.5),(107.5,12),(107.5,15),(104,19.2)]],
"KHM":[[(102.5,13),(105.5,14.3),(107.5,14.5),(107.5,12),(105,10.5),(103,11)]],
"MYS":[[(100.3,6.6),(102,6),(103.4,4),(104.2,1.4),(101.3,2.9)],[(109.6,2),(111.3,2.7),(113,3.2),(115,5),(117,7),(119,5),(117.6,4.2),(115.5,3.2),(114,1.5),(111,1.2)]],
"SGP":[[(103.6,1.2),(104.2,1.3),(104,1.5)]],
"IDN":[[(95.3,5.6),(98,4),(104,-1.5),(106,-3),(105.8,-5.8),(102,-4),(98.5,1)],[(105.5,-6.8),(108.5,-6.5),(111,-6.5),(114.5,-7.8),(114,-8.7),(108,-7.8)],[(109,1.5),(111,1.2),(114,1.5),(115.5,3.2),(117.6,4.2),(119,1),(116.5,-3.5),(114.5,-3.8),(110,-3)],[(119.5,-5.5),(119,-2.8),(119.8,1),(125,1.5),(120.8,0.3),(123.3,-1),(122,-4.8),(120.5,-3),(120.5,-5.6)],[(131,-1),(134,-0.8),(136,-2.3),(141,-2.6),(141,-9.1),(138,-8.3),(138,-5.5),(133,-4),(132.8,-2.6)],[(127.5,2),(128.7,1.3),(127.7,-0.8)],[(128,-3.3),(130.8,-3.4),(129,-2.8)],[(115,-8.7),(119,-8.2),(123,-8.3),(119,-8.8)],[(119.8,-9.3),(120.8,-10.1),(117.6,-10)],[(123.5,-10.3),(125,-9),(127,-8.4),(124.5,-10.2)]],
"PNG":[[(141,-2.6),(145,-4.5),(147.5,-6),(148,-8),(150.8,-10.5),(146,-8.5),(143,-9.2),(141,-9.1)],[(148.5,-5.8),(152,-4.2),(150.5,-6.2)]],
"PHL":[[(120.3,18.5),(122.2,18.4),(122,15),(124,12.7),(120.7,13.9),(120,16)],[(122,7),(125.5,5.7),(126.5,8),(125.5,9.8),(123.5,8)],[(118,9),(119.5,11),(119.5,10)],[(122.2,11),(125,11.5),(125,10.2),(123,9.2)]],
"AUS":[[(113.7,-22),(116.7,-20.6),(122,-18),(124,-16),(126,-14),(129.5,-14.9),(131,-12.2),(136.5,-12),(135.5,-15),(139.5,-17.5),(141.5,-14),(142.5,-10.8),(145.5,-15),(146.5,-19),(150,-22.5),(153.3,-26),(153,-31),(150,-37.3),(146.5,-39),(144,-38.4),(140,-38),(137.5,-35),(138,-33),(135.5,-34.8),(131,-31.5),(125,-32.7),(123.5,-33.9),(118,-35),(115,-34.3),(115.7,-31.5),(113.7,-26)],[(144.7,-40.8),(148.3,-40.9),(148,-42.5),(146.5,-43.6),(145.3,-42.5)]],
"NZL":[[(172.7,-34.5),(175.5,-37),(178.5,-37.7),(175.3,-41.6),(174.8,-39.5)],[(167,-46.2),(170.8,-46),(172.8,-43.6),(174.2,-41.7),(172.7,-40.6),(168.5,-44)]],
}

W, H = 700, 444
def px(x): return x / W
def py(y): return 1 - y / H

def oriented(ring):
    area = sum(ring[i][0]*ring[(i+1)%len(ring)][1] - ring[(i+1)%len(ring)][0]*ring[i][1] for i in range(len(ring)))
    r = [list(p) for p in ring]
    if area > 0: r.reverse()     # d3-geo wants clockwise exteriors
    r.append(r[0])
    return r

geojson = {"type":"FeatureCollection","features":[
    {"type":"Feature","id":k,"properties":{},
     "geometry":{"type":"MultiPolygon","coordinates":[[oriented(r)] for r in rings]}} for k,rings in outlines.items()]}

fig = go.Figure()
# first geo trace carries no locationmode, so no basemap file is requested
fig.add_trace(go.Scattergeo(lon=[0], lat=[0], mode="markers", marker=dict(opacity=0, size=1), hoverinfo="skip"))
others = [k for k in outlines if k not in iso3]
fig.add_trace(go.Choropleth(geojson=geojson, locations=others, z=[0]*len(others), locationmode="geojson-id",
    colorscale=[[0,"#f8fbfd"],[1,"#f8fbfd"]], showscale=False, hoverinfo="location",
    marker=dict(line=dict(color="#e3e5e7", width=0.9))))
shown = [i for i,c in enumerate(iso3) if c in outlines]
fig.add_trace(go.Choropleth(geojson=geojson, locations=[iso3[i] for i in shown], z=[math.log10(views[i]) for i in shown],
    text=[countries[i] for i in shown], locationmode="geojson-id", zmin=0, zmax=math.log10(9069), showscale=False,
    colorscale=[[0,"#fde3bd"],[0.08,"#fdd9a6"],[0.16,"#fcd488"],[0.25,"#efc84a"],[0.3,"#fcc80f"],[0.36,"#fbb80c"],[0.39,"#f59a0a"],
                [0.52,"#f79118"],[0.6,"#f77c1c"],[0.74,"#f7751e"],[1,"#e8174a"]],
    marker=dict(line=dict(width=0))))

# legend gradient
legend_steps = list(range(60))
fig.add_trace(go.Heatmap(z=[legend_steps], xaxis="x", yaxis="y", showscale=False, hoverinfo="skip",
    colorscale=[[0,"#fb9a1c"],[0.08,"#f98520"],[0.5,"#f5572e"],[1,"#ef1344"]]))

shapes, annos = [], []
def rect(x0,y0,x1,y1,c,op=1):
    shapes.append(dict(type="rect",xref="paper",yref="paper",x0=px(x0),x1=px(x1),y0=py(y1),y1=py(y0),fillcolor=c,line_width=0,opacity=op,layer="above"))
def path(pts,c):
    d = "M"+"L".join(f"{px(a):.5f},{py(b):.5f}" for a,b in pts)+"Z"
    shapes.append(dict(type="path",xref="paper",yref="paper",path=d,fillcolor=c,line_width=0,layer="above"))
def circ(cx,cy,r,c):
    shapes.append(dict(type="circle",xref="paper",yref="paper",x0=px(cx-r),x1=px(cx+r),y0=py(cy+r),y1=py(cy-r),fillcolor=c,line_width=0,layer="above"))
def seg(x0,y0,x1,y1,c,w):
    shapes.append(dict(type="line",xref="paper",yref="paper",x0=px(x0),x1=px(x1),y0=py(y0),y1=py(y1),line=dict(color=c,width=w),layer="above"))

FX0, FX1 = 4, 20
def hs(t,b,cols,weights=None):
    weights = weights or [1]*len(cols); tot=sum(weights); y=t
    for c,w in zip(cols,weights):
        nxt=y+(b-t)*w/tot; rect(FX0,y,FX1,nxt,c); y=nxt
def vs(t,b,cols):
    n=len(cols)
    for i,c in enumerate(cols):
        rect(FX0+(FX1-FX0)*i/n,t,FX0+(FX1-FX0)*(i+1)/n,b,c)
def union(t,b,x1):
    rect(FX0,t,x1,b,"#2a3a7c")
    seg(FX0,t,x1,b,"#fff",1.2); seg(FX0,b,x1,t,"#fff",1.2)
    m=(t+b)/2; xm=(FX0+x1)/2
    seg(FX0,m,x1,m,"#fff",2.2); seg(xm,t,xm,b,"#fff",2.2)
    seg(FX0,m,x1,m,"#d02030",1.1); seg(xm,t,xm,b,"#d02030",1.1)

def flag(code,t,b):
    m=(t+b)/2; c=(FX0+FX1)/2
    if code=="NLD": hs(t,b,["#e2303c","#fafafa","#1f3f8a"])
    elif code=="USA":
        hs(t,b,["#c8323c","#f5f5f5"]*3+["#c8323c"]); rect(FX0,t,12,m,"#3c4a8c")
    elif code=="BEL": vs(t,b,["#111","#f7d520","#e0283a"])
    elif code=="DEU": hs(t,b,["#2a2a2a","#d8202c","#f5c518"])
    elif code=="IRL": vs(t,b,["#1f9a50","#fafafa","#f58a28"])
    elif code=="AUT": hs(t,b,["#e0303c","#fafafa","#e0303c"])
    elif code=="ESP":
        hs(t,b,["#d8202c","#f8c81c","#d8202c"],[1,2,1]); rect(7,m-2,10,m+2,"#b83020")
    elif code=="PRT":
        rect(FX0,t,10.5,b,"#1e8a3c"); rect(10.5,t,FX1,b,"#e0202c"); circ(10.5,m,2.6,"#f0b828")
    elif code=="FRA": vs(t,b,["#1f3a90","#fafafa","#e8202c"])
    elif code=="ITA": vs(t,b,["#1e9a4a","#fafafa","#e0202c"])
    elif code=="GBR": union(t,b,FX1)
    elif code=="SGP":
        hs(t,b,["#e8303c","#f8f8f8"]); circ(8,t+3.2,2,"#fff"); circ(8.8,t+3.2,1.8,"#e8303c")
    elif code=="AUS":
        rect(FX0,t,FX1,b,"#1c2f7e"); union(t,m,12); circ(16,t+3,0.9,"#fff"); circ(17,m+2,0.9,"#fff"); circ(8,m+3.5,1.2,"#fff"); circ(14.5,m+3,0.8,"#fff")
    elif code=="KHM":
        hs(t,b,["#2a3f98","#e0202c","#2a3f98"],[1,2,1]); rect(8.5,m-2,15.5,m+2.5,"#fff")
    elif code=="POL": hs(t,b,["#fafafa","#e0203c"])
    elif code=="CHE":
        rect(FX0,t,FX1,b,"#e0202c"); rect(c-4,m-1.4,c+4,m+1.4,"#fff"); rect(c-1.4,m-4,c+1.4,m+4,"#fff")
    elif code=="BRA":
        rect(FX0,t,FX1,b,"#1f9a3c"); path([(c-7,m),(c,t+1),(c+7,m),(c,b-1)],"#f5d820"); circ(c,m,3,"#2a3f90")
    elif code=="TUR":
        rect(FX0,t,FX1,b,"#e0202c"); circ(10,m,3.6,"#fff"); circ(11,m,2.9,"#e0202c"); circ(14.5,m,1.1,"#fff")
    elif code=="SUR":
        hs(t,b,["#2a8a48","#fff","#c82030","#fff","#2a8a48"],[2,1,4,1,2]); circ(c,m,1.4,"#f0d020")
    elif code=="JOR":
        hs(t,b,["#222","#fafafa","#1e8a48"]); path([(FX0,t),(13,m),(FX0,b)],"#d8202c")
    elif code=="DOM":
        rect(FX0,t,11,m,"#2a3f90"); rect(13,t,FX1,m,"#d8303c"); rect(FX0,m,11,b,"#d8303c"); rect(13,m,FX1,b,"#2a3f90")
        rect(FX0,m-1,FX1,m+1,"#fff"); 
    elif code=="IDN": hs(t,b,["#e8303c","#f8f8f8"])
    rect(FX0,t,FX1,m-1,"#ffffff",0.28)   # gloss

def text(x,y,s,size,color,anchor="left",weight=None):
    f=dict(size=size,color=color,family="Open Sans")
    if weight: f["weight"]=weight
    annos.append(dict(x=px(x),y=py(y),xref="paper",yref="paper",text=s,showarrow=False,xanchor=anchor,yanchor="middle",
                      font=f,borderpad=0,borderwidth=0))

text(3,8.5,TITLE,11.3,"#555",weight=600)
sep = ' <span style="color:#666">|</span> '
text(3,41,sep.join(f"<u>{l}</u>" for l in LINKS),11.4,"#3f92c4")
text(3,73,"Country",8.8,"#b8b8b8")
text(217,73,"Views",8.8,"#b8b8b8","right")

ROW0, PITCH = 91, 16.48
for i,(name,code,lab) in enumerate(zip(countries,iso3,view_labels)):
    yc = ROW0+PITCH*i
    if i%2==0: rect(3,yc-PITCH/2,219,yc+PITCH/2,"#f5f9fc")
    flag(code,yc-7,yc+7)
    text(24,yc,name,9.1,"#5a5a5a")
    text(217,yc,lab,9.4,"#5a5a5a","right")

text(279,408.5,"1",9.6,"#555","center")
text(395,408.5,"9,069",9.6,"#555")

fig.update_layout(
    width=W, height=H, margin=dict(l=0,r=0,t=0,b=0), paper_bgcolor="white", plot_bgcolor="white",
    font=dict(family="Open Sans", color="#555"), shapes=shapes, annotations=annos, showlegend=False,
    geo=dict(domain=dict(x=[277/W,700/W], y=[1-411/H,1-99/H]),
             projection=dict(type="mercator", scale=1), center=dict(lat=35.6, lon=1),
             lonaxis_range=[-175,185], lataxis_range=[-56,84],
             showframe=False, bgcolor="rgba(0,0,0,0)", showland=False, showcountries=False, showcoastlines=False,
             showocean=False, showlakes=False, showrivers=False, showsubunits=False),
    xaxis=dict(domain=[286/W,390/W], visible=False, fixedrange=True),
    yaxis=dict(domain=[1-413/H,1-404/H], visible=False, fixedrange=True),
)
fig.write_html("out.html", post_script="document.body.style.margin='0';", config=dict(displayModeBar=False))
